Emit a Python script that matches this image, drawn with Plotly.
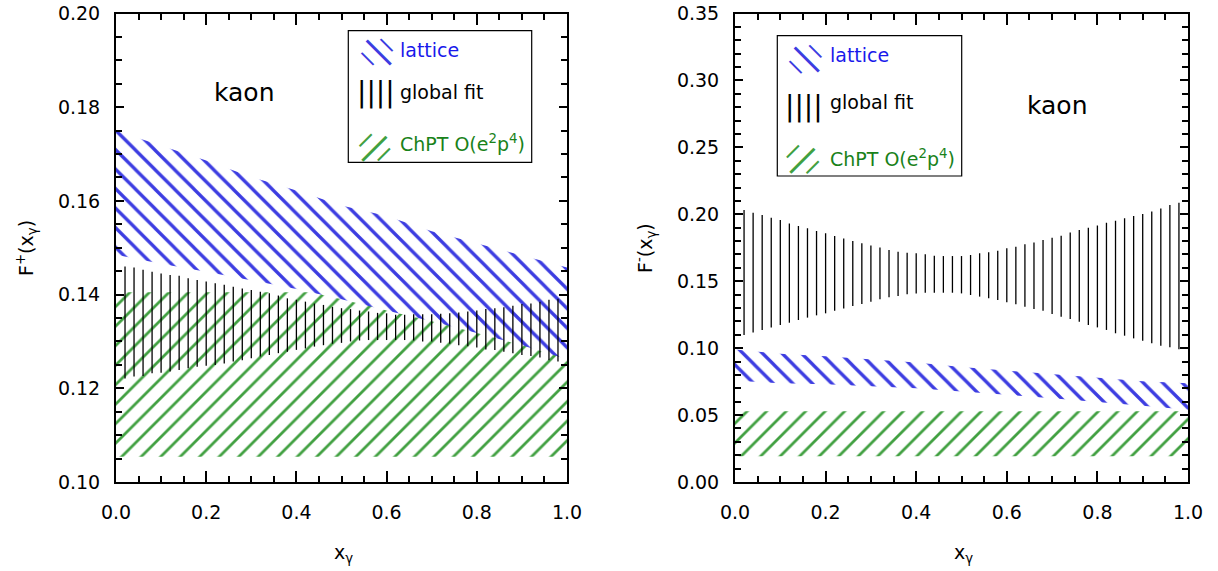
import plotly.graph_objects as go

# ---------------- data ----------------
x_nodes = [0.0, 0.1, 0.2, 0.3, 0.4, 0.5, 0.6, 0.7, 0.8, 0.9, 1.0]
x_ends = [0.0, 1.0]

# left panel: F+(x_gamma)
lat_p_upper = [0.1750, 0.1718, 0.1686, 0.1651, 0.1622, 0.1590, 0.1568, 0.1535, 0.1509, 0.1483, 0.1458]
lat_p_lower = [0.1485, 0.1466, 0.1449, 0.1431, 0.1412, 0.1390, 0.1366, 0.1343, 0.1318, 0.1292, 0.1262]
chpt_p_upper = [0.1405, 0.1405]
chpt_p_lower = [0.1054, 0.1054]

# right panel: F-(x_gamma)
lat_m_upper = [0.0990, 0.0958, 0.0940, 0.0918, 0.0893, 0.0860, 0.0832, 0.0805, 0.0778, 0.0752, 0.0738]
lat_m_lower = [0.0757, 0.0738, 0.0730, 0.0716, 0.0700, 0.0678, 0.0652, 0.0625, 0.0600, 0.0570, 0.0540]
chpt_m_upper = [0.0528, 0.0528]
chpt_m_lower = [0.0192, 0.0192]

# global fit error bars
fit_x = [0.02, 0.04, 0.06, 0.08, 0.10, 0.12, 0.14, 0.16, 0.18, 0.20,
         0.22, 0.24, 0.26, 0.28, 0.30, 0.32, 0.34, 0.36, 0.38, 0.40,
         0.42, 0.44, 0.46, 0.48, 0.50, 0.52, 0.54, 0.56, 0.58, 0.60,
         0.62, 0.64, 0.66, 0.68, 0.70, 0.72, 0.74, 0.76, 0.78, 0.80,
         0.82, 0.84, 0.86, 0.88, 0.90, 0.92, 0.94, 0.96, 0.98]
fit_p_upper = [0.1460, 0.1458, 0.1453, 0.1449, 0.1445, 0.1442, 0.1440, 0.1435, 0.1431, 0.1428,
               0.1424, 0.1421, 0.1417, 0.1413, 0.1410, 0.1406, 0.1403, 0.1398, 0.1392, 0.1389,
               0.1385, 0.1381, 0.1378, 0.1374, 0.1371, 0.1369, 0.1366, 0.1364, 0.1361, 0.1360,
               0.1357, 0.1357, 0.1358, 0.1358, 0.1358, 0.1359, 0.1360, 0.1362, 0.1364, 0.1366,
               0.1369, 0.1371, 0.1373, 0.1376, 0.1380, 0.1381, 0.1385, 0.1389, 0.1391]
fit_p_lower = [0.1221, 0.1225, 0.1226, 0.1232, 0.1233, 0.1236, 0.1239, 0.1243, 0.1246, 0.1248,
               0.1250, 0.1253, 0.1257, 0.1260, 0.1264, 0.1268, 0.1271, 0.1275, 0.1278, 0.1282,
               0.1285, 0.1289, 0.1292, 0.1295, 0.1297, 0.1300, 0.1302, 0.1303, 0.1303, 0.1303,
               0.1303, 0.1303, 0.1302, 0.1300, 0.1300, 0.1297, 0.1295, 0.1292, 0.1290, 0.1287,
               0.1283, 0.1282, 0.1278, 0.1275, 0.1271, 0.1269, 0.1266, 0.1260, 0.1257]
fit_m_upper = [0.2032, 0.2012, 0.1995, 0.1975, 0.1957, 0.1932, 0.1912, 0.1895, 0.1875, 0.1858,
               0.1838, 0.1820, 0.1800, 0.1783, 0.1766, 0.1751, 0.1733, 0.1721, 0.1713, 0.1708,
               0.1701, 0.1691, 0.1688, 0.1688, 0.1688, 0.1696, 0.1708, 0.1716, 0.1728, 0.1746,
               0.1758, 0.1776, 0.1790, 0.1808, 0.1825, 0.1840, 0.1863, 0.1883, 0.1900, 0.1917,
               0.1937, 0.1952, 0.1970, 0.1987, 0.2002, 0.2020, 0.2044, 0.2069, 0.2087]
fit_m_lower = [0.1098, 0.1116, 0.1136, 0.1155, 0.1173, 0.1190, 0.1210, 0.1228, 0.1245, 0.1260,
               0.1280, 0.1297, 0.1315, 0.1330, 0.1347, 0.1365, 0.1380, 0.1390, 0.1402, 0.1409,
               0.1414, 0.1414, 0.1414, 0.1414, 0.1409, 0.1397, 0.1385, 0.1372, 0.1360, 0.1342,
               0.1327, 0.1310, 0.1292, 0.1280, 0.1255, 0.1235, 0.1218, 0.1198, 0.1173, 0.1155,
               0.1136, 0.1111, 0.1093, 0.1073, 0.1056, 0.1036, 0.1018, 0.1006, 0.0991]

legend_labels = ["lattice", "global fit", "ChPT O(e<sup>2</sup>p<sup>4</sup>)"]

# ---------------- styles ----------------
FONT = "DejaVu Sans"
BLUE = "rgb(60,60,225)"
BLUE_TXT = "rgb(25,25,235)"
GREEN = "rgb(65,160,65)"
GREEN_TXT = "rgb(25,130,25)"
W, H = 1218, 571


def px(x):
    return x / W


def py(y):
    return 1 - y / H


def band(xs, upper, lower, shape, color, solidity, xa, ya):
    return go.Scatter(
        x=list(xs) + list(xs)[::-1],
        y=list(upper) + list(lower)[::-1],
        mode="lines", line=dict(width=0), fill="toself",
        fillcolor="white",
        fillpattern=dict(shape=shape, fgcolor=color, bgcolor="white",
                         size=13.8, solidity=solidity, fillmode="replace"),
        xaxis=xa, yaxis=ya, showlegend=False, hoverinfo="skip")


def bars(xs, upper, lower, xa, ya):
    X, Y = [], []
    for xv, u, l in zip(xs, upper, lower):
        X += [xv, xv, None]
        Y += [l, u, None]
    return go.Scatter(x=X, y=Y, mode="lines", line=dict(color="black", width=1.3),
                      xaxis=xa, yaxis=ya, showlegend=False, hoverinfo="skip")


fig = go.Figure()
fig.add_trace(band(x_ends, chpt_p_upper, chpt_p_lower, "/", GREEN, 0.2, "x", "y"))
fig.add_trace(band(x_nodes, lat_p_upper, lat_p_lower, "\\", BLUE, 0.24, "x", "y"))
fig.add_trace(bars(fit_x, fit_p_upper, fit_p_lower, "x", "y"))
fig.add_trace(band(x_ends, chpt_m_upper, chpt_m_lower, "/", GREEN, 0.2, "x2", "y2"))
fig.add_trace(band(x_nodes, lat_m_upper, lat_m_lower, "\\", BLUE, 0.24, "x2", "y2"))
fig.add_trace(bars(fit_x, fit_m_upper, fit_m_lower, "x2", "y2"))

ydom = [py(482), py(13.5)]
common_ax = dict(showline=True, linewidth=2, linecolor="black", mirror="ticks",
                 ticks="inside", tickwidth=1.5, tickcolor="black",
                 showgrid=False, zeroline=False, automargin=False,
                 ticklabeloverflow="allow",
                 tickfont=dict(family=FONT, size=19, color="black"))

fig.update_layout(
    template="none",
    width=W, height=H, margin=dict(l=0, r=0, t=0, b=0, pad=0),
    paper_bgcolor="white", plot_bgcolor="white", showlegend=False,
    xaxis=dict(domain=[px(116), px(567)], range=[0, 1], dtick=0.2, tickformat=".1f",
               ticklen=11, ticklabelstandoff=12,
               minor=dict(dtick=0.05, ticks="inside", ticklen=6, tickwidth=1.5, tickcolor="black"),
               anchor="y", **common_ax),
    yaxis=dict(domain=ydom, range=[0.1, 0.2], dtick=0.02, tickformat=".2f",
               ticklen=8, ticklabelstandoff=10,
               minor=dict(dtick=0.005, ticks="inside", ticklen=6, tickwidth=1.5, tickcolor="black"),
               anchor="x", **common_ax),
    xaxis2=dict(domain=[px(735), px(1188)], range=[0, 1], dtick=0.2, tickformat=".1f",
                ticklen=11, ticklabelstandoff=12,
                minor=dict(dtick=0.05, ticks="inside", ticklen=6, tickwidth=1.5, tickcolor="black"),
                anchor="y2", **common_ax),
    yaxis2=dict(domain=ydom, range=[0, 0.35], dtick=0.05, tickformat=".2f",
                ticklen=8, ticklabelstandoff=10,
                minor=dict(dtick=0.01, ticks="inside", ticklen=6, tickwidth=1.5, tickcolor="black"),
                anchor="x2", **common_ax),
)

ann = []
# axis titles
ann.append(dict(text="F<sup>+</sup>(x<sub>γ</sub>)", x=px(27), y=py(248), textangle=-90))
ann.append(dict(text="F<sup>-</sup>(x<sub>γ</sub>)", x=px(646), y=py(248), textangle=-90))
ann.append(dict(text="x<sub>γ</sub>", x=px(343.5), y=py(553)))
ann.append(dict(text="x<sub>γ</sub>", x=px(963.5), y=py(553)))
for a in ann:
    a.update(xref="paper", yref="paper", showarrow=False, xanchor="center", yanchor="middle",
             font=dict(family=FONT, size=19, color="black"))

# "kaon" labels
ann.append(dict(text="kaon", x=0.286, y=0.1832, xref="x", yref="y", showarrow=False,
                font=dict(family=FONT, size=25, color="black")))
ann.append(dict(text="kaon", x=0.713, y=0.2816, xref="x2", yref="y2", showarrow=False,
                font=dict(family=FONT, size=25, color="black")))

# legends: text + hatch swatches built from glyph strokes
legend_colors = [BLUE_TXT, "black", GREEN_TXT]
legend_specs = [
    # (text_x, text_ys, swatch_x, swatch_ys)
    (398.3, [50, 91.7, 143], 376, [51, 93, 146]),
    (828.3, [55, 101.7, 158], 804, [58, 106, 158]),
]


def stroke(x, y, size, angle, color, bold=False):
    return dict(text="|", x=px(x), y=py(y), xref="paper", yref="paper",
                xanchor="center", yanchor="middle", showarrow=False, textangle=angle,
                font=dict(family=FONT, size=size, color=color,
                          weight="bold" if bold else "normal"))


for tx, tys, sx, sys_ in legend_specs:
    for i in range(3):
        ann.append(dict(text=legend_labels[i], x=px(tx), y=py(tys[i]), xref="paper", yref="paper",
                        xanchor="left", yanchor="middle", showarrow=False,
                        font=dict(family=FONT, size=19, color=legend_colors[i])))
    # lattice swatch "\\"
    cy = sys_[0]
    ann.append(stroke(sx, cy, 34, -45, BLUE))
    ann.append(stroke(sx + 9.5, cy - 7.5, 17, -45, BLUE, True))
    ann.append(stroke(sx - 9.5, cy + 7.5, 17, -45, BLUE, True))
    # global fit swatch "||||"
    ann.append(dict(text="||||", x=px(sx), y=py(sys_[1]), xref="paper", yref="paper",
                    xanchor="center", yanchor="middle", showarrow=False,
                    font=dict(family=FONT, size=28, color="black")))
    # ChPT swatch "//"
    cy = sys_[2]
    ann.append(stroke(sx, cy, 34, 45, GREEN))
    ann.append(stroke(sx + 9.5, cy + 7.5, 17, 45, GREEN, True))
    ann.append(stroke(sx - 9.5, cy - 7.5, 17, 45, GREEN, True))

fig.update_layout(annotations=ann)

shapes = []
for (x0, y0, x1, y1) in [(348.3, 30.7, 531.7, 162.3), (777.3, 35.7, 961.7, 176)]:
    shapes.append(dict(type="rect", xref="paper", yref="paper",
                       x0=px(x0), x1=px(x1), y0=py(y1), y1=py(y0),
                       line=dict(color="black", width=1.2), fillcolor="white", layer="above"))
fig.update_layout(shapes=shapes)

fig.write_html("out.html", config={"displayModeBar": False},
               post_script="document.body.style.margin='0';")
